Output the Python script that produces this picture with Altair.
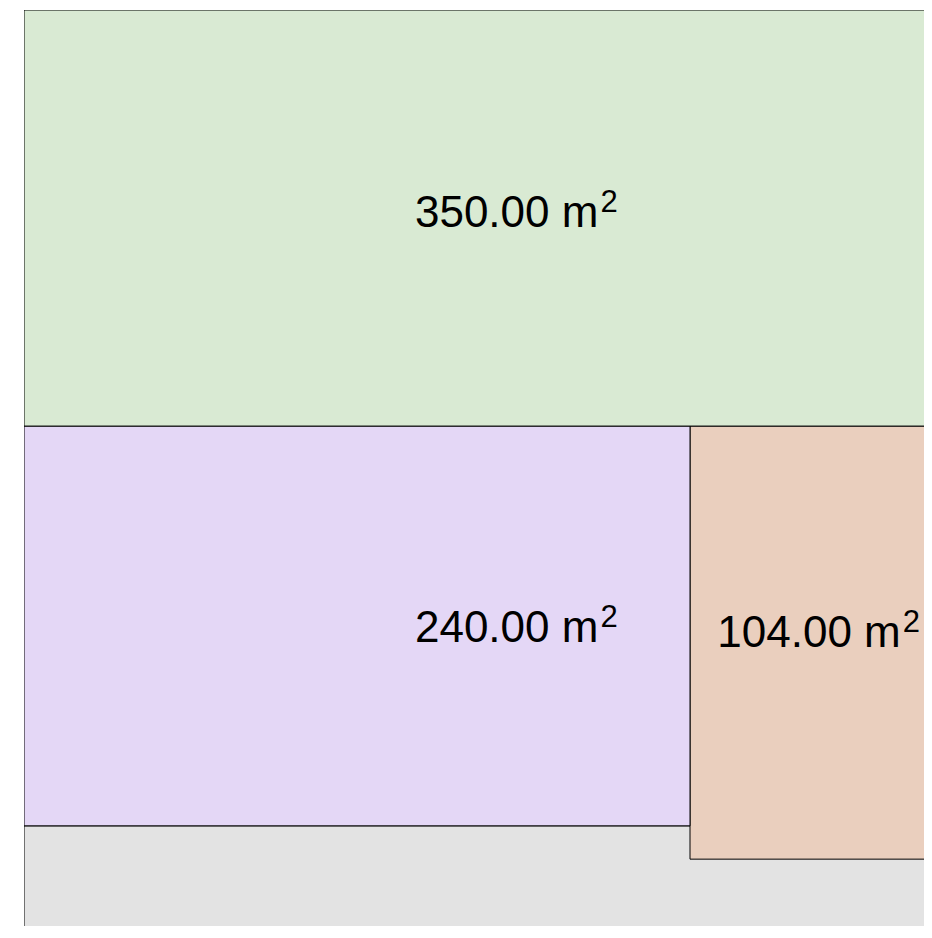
import altair as alt
import pandas as pd

# Floor plan rooms (metres)
rooms = ["Gray", "Green", "Purple", "Orange"]
x0 = [0.0, 0.0, 0.0, 20.0]
x1 = [28.0, 28.0, 20.0, 28.0]
y0 = [24.5, 0.0, 12.5, 12.5]
y1 = [30.0, 12.5, 24.5, 25.5]
fills = ["#e3e3e3", "#d9ead3", "#e4d7f6", "#eacfbe"]

# Area labels (anchor = end of the "m" unit, baseline)
label_text = ["350.00 m", "240.00 m", "104.00 m"]
label_sup = ["2", "2", "2"]
label_x = [17.25, 17.25, 26.33]
label_y = [6.51, 18.97, 19.12]

rooms_df = pd.DataFrame({"room": rooms, "x0": x0, "x1": x1, "y0": y0, "y1": y1, "fill": fills})
labels_df = pd.DataFrame({"text": label_text, "sup": label_sup, "x": label_x, "y": label_y})

PX_PER_M = 33.3
W = 900
H = 916

xs = alt.Scale(domain=[0, W / PX_PER_M], nice=False, zero=False)
ys = alt.Scale(domain=[0, H / PX_PER_M], nice=False, zero=False, reverse=True)

rects = alt.Chart(rooms_df).mark_rect(stroke="#000000", strokeWidth=1, clip=True).encode(
    x=alt.X("x0:Q", scale=xs, axis=None),
    x2="x1:Q",
    y=alt.Y("y0:Q", scale=ys, axis=None),
    y2="y1:Q",
    fill=alt.Fill("fill:N", scale=None),
    order=alt.Order("room:N", sort="ascending"),
)

base = alt.Chart(labels_df).encode(
    x=alt.X("x:Q", scale=xs, axis=None),
    y=alt.Y("y:Q", scale=ys, axis=None),
)

texts = base.mark_text(
    font="Liberation Sans", fontSize=44, color="#000000", align="right", baseline="alphabetic", clip=True
).encode(text="text:N")

sups = base.mark_text(
    font="Liberation Sans", fontSize=31, color="#000000", align="left", baseline="alphabetic",
    dx=2, dy=-15, clip=True
).encode(text="sup:N")

chart = alt.layer(rects, texts, sups).properties(
    width=W, height=H,
    padding={"left": 16, "top": 2, "right": 0, "bottom": 0},
).configure_view(stroke=None)

chart.save("out.html", embed_options={"renderer": "svg", "actions": False})
